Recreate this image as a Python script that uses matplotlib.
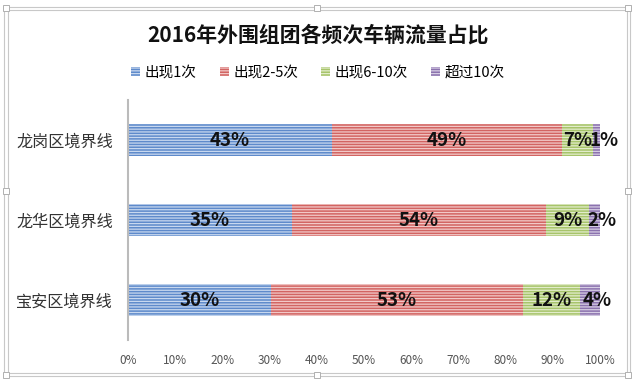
import matplotlib
matplotlib.use("Agg")
import matplotlib.pyplot as plt
from matplotlib.patches import Rectangle
import numpy as np

plt.rcParams['font.family'] = ['Noto Sans CJK SC', 'DejaVu Sans']
plt.rcParams['hatch.linewidth'] = 0.9

title = "2016年外围组团各频次车辆流量占比"
categories = ["宝安区境界线", "龙华区境界线", "龙岗区境界线"]
series_names = ["出现1次", "出现2-5次", "出现6-10次", "超过10次"]
once = [30.4, 34.7, 43.2]
two_five = [53.2, 53.9, 48.8]
six_ten = [12.1, 9.1, 6.6]
over_ten = [4.3, 2.3, 1.4]
xticks = [0, 10, 20, 30, 40, 50, 60, 70, 80, 90, 100]

face_colors = ["#5E8ACB", "#D26462", "#A7C46A", "#8B72AE"]
hatch_colors = ["#C8D8EF", "#F2C9C8", "#E2ECCB", "#D6CDE4"]
label_shift = [0, 0, 0, 1.6]

W, H = 635, 383
fig = plt.figure(figsize=(W / 100, H / 100), dpi=100)

def fx(x): return x / W
def fy(y): return 1 - y / H

# frame
for (x0, y0, x1, y1) in [(4, 7, 630, 376), (8, 10, 627, 373)]:
    fig.patches.append(Rectangle((fx(x0), fy(y1)), fx(x1) - fx(x0), fy(y0) - fy(y1),
                                 transform=fig.transFigure, fill=False,
                                 edgecolor="#C8C8C8", linewidth=0.8))
for hx in [6, 317, 628]:
    for hy in [8, 191, 375]:
        if hx == 317 and hy == 191:
            continue
        fig.patches.append(Rectangle((fx(hx - 3), fy(hy + 3)), fx(6), 6 / H,
                                     transform=fig.transFigure, facecolor="white",
                                     edgecolor="#B0B0B0", linewidth=0.7, zorder=5))

ax = fig.add_axes([fx(128), fy(340), fx(600) - fx(128), fy(100) - fy(340)])

y = np.arange(len(categories))
data = [once, two_five, six_ten, over_ten]
left = np.zeros(len(categories))
for vals, name, fc, hc, sh in zip(data, series_names, face_colors, hatch_colors, label_shift):
    vals = np.array(vals)
    ax.barh(y, vals, left=left, height=0.41, color=fc, edgecolor=hc,
            hatch="------", linewidth=0, label=name)
    for yi, l, v in zip(y, left, vals):
        ax.text(l + v / 2 + sh, yi, f"{v:.0f}%", ha="center", va="center",
                fontsize=13.5, fontweight="bold", color="#111111", clip_on=False)
    left += vals

ax.set_xlim(0, 100)
ax.set_ylim(-0.5, 2.5)
ax.set_yticks(y)
ax.set_yticklabels(categories, fontsize=11.6, color="#333333")
ax.set_xticks(xticks)
ax.set_xticklabels([f"{t}%" for t in xticks], fontsize=8.5, color="#555555")
ax.tick_params(axis="x", length=0, pad=10)
ax.tick_params(axis="y", length=0, pad=11)
for s in ["top", "right", "bottom"]:
    ax.spines[s].set_visible(False)
ax.spines["left"].set_color("#BBBBBB")
ax.spines["left"].set_linewidth(1.5)

fig.text(fx(318), fy(35), title, ha="center", va="center", fontsize=15,
         fontweight="bold", color="#111111")

handles, labels = ax.get_legend_handles_labels()
fig.legend(handles, labels, loc="center", bbox_to_anchor=(fx(318), fy(73)),
           ncol=4, frameon=False, fontsize=10.5, handlelength=0.6, handleheight=0.6,
           handletextpad=0.3, columnspacing=1.6)

fig.savefig("out.png", dpi=100)
